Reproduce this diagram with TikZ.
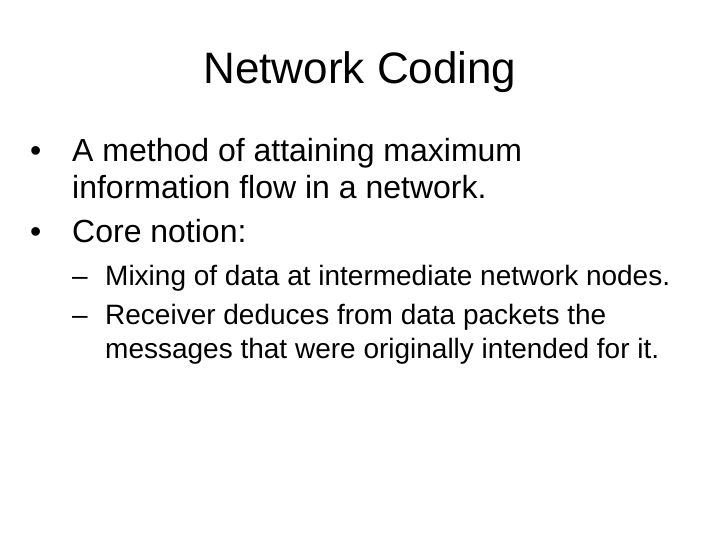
\documentclass[tikz,border=0pt]{standalone}
\usepackage{fontspec}
\setmainfont{Liberation Sans}
\begin{document}
\begin{tikzpicture}[x=1pt,y=-1pt]
	\tikzstyle{every node}+=[inner sep=0pt,anchor=base west]
	\tikzstyle{bodytext}=[font=\fontsize{32}{38}\selectfont]
	\tikzstyle{subtext}=[font=\fontsize{28}{33}\selectfont]
	\useasboundingbox (0,0) rectangle (720,540);
	\node [anchor=base,font=\fontsize{44}{52}\selectfont] (title) at (360,84) {Network Coding};
	\node [bodytext] (bulA) at (30,162) {\textbullet};
	\node [bodytext] (lineA) at (72,162) {A method of attaining maximum};
	\node [bodytext] (lineB) at (72,199) {information flow in a network.};
	\node [bodytext] (bulB) at (30,242) {\textbullet};
	\node [bodytext] (lineC) at (72,242) {Core notion:};
	\node [subtext] (dashA) at (72,285) {--};
	\node [subtext] (subA) at (105,285) {Mixing of data at intermediate network nodes.};
	\node [subtext] (dashB) at (72,324) {--};
	\node [subtext] (subB) at (105,324) {Receiver deduces from data packets the};
	\node [subtext] (subC) at (105,358) {messages that were originally intended for it.};
\end{tikzpicture}
\end{document}
